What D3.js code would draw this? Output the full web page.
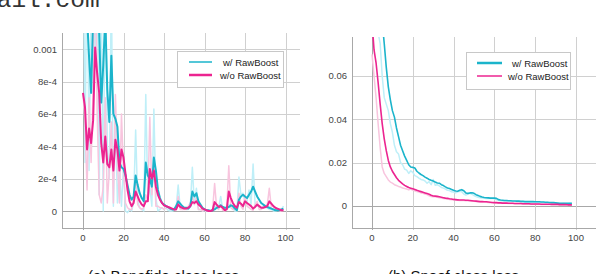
<!DOCTYPE html>
<html>
<head>
<meta charset="utf-8">
<script src="https://cdn.jsdelivr.net/npm/d3@7"></script>
<style>
  body { margin: 0; background: #fff; }
  svg { display: block; font-family: "Liberation Sans", Arial, sans-serif; }
</style>
</head>
<body>
<script>
/* epochs and tick labels */
var xTicks = [0, 20, 40, 60, 80, 100];
var leftYTicks = [0, 2e-4, 4e-4, 6e-4, 8e-4, 1e-3];
var leftYLabels = ["0", "2e-4", "4e-4", "6e-4", "8e-4", "0.001"];
var rightYTicks = [0, 0.02, 0.04, 0.06];
var rightYLabels = ["0", "0.02", "0.04", "0.06"];
var seriesNames = ["w/ RawBoost", "w/o RawBoost"];

/* (a) bonafide loss, units of 1e-4, epoch 0..99 */
var bonaWithSmooth = [14,13,12,9.5,7.3,12,15,13,11,6.7,9,12,7.5,5.5,9.6,6.0,5.7,5.2,3.0,2.7,
  2.6,2.2,1.6,1.0,0.7,0.9,2.2,1.6,1.1,0.8,0.6,3.0,2.2,2.0,1.5,3.3,2.5,1.3,0.8,0.5,
  0.4,0.3,0.25,0.15,0.1,0.1,0.3,0.6,0.45,0.3,0.2,0.2,0.15,0.3,1.2,0.9,1.1,0.6,0.4,0.2,
  0.1,0.05,0.05,0.0,0.05,0.1,0.2,0.25,0.35,0.25,0.2,0.2,0.25,0.35,0.3,0.15,0.05,0.7,0.9,1.0,
  0.9,0.8,1.0,1.2,1.5,1.2,0.9,0.7,0.5,0.4,0.3,0.25,0.2,0.15,0.1,0.05,0.05,0.05,0.1,0.15];
var bonaWithoutSmooth = [7.3,6.4,3.8,5.1,4.2,5.6,10.1,8.5,7.3,4.2,3.0,4.6,2.9,2.7,3.8,2.5,4.4,3.8,2.5,3.8,
  3.3,2.3,1.3,0.6,0.3,0.5,1.2,0.9,0.6,0.4,0.3,0.6,0.6,2.6,2.0,2.5,1.5,1.0,0.7,0.5,
  0.35,0.3,0.25,0.2,0.15,0.1,0.1,0.4,0.25,0.2,0.15,0.15,0.2,0.3,0.55,0.5,0.6,0.4,0.3,0.15,
  0.1,0.05,0.0,0.0,0.05,0.55,0.4,0.25,0.3,0.2,0.05,0.1,1.2,0.8,0.5,0.3,0.2,0.55,0.45,0.3,
  0.6,0.5,0.4,0.3,0.15,0.25,0.4,0.3,0.2,0.2,0.25,0.3,0.6,0.45,0.3,0.2,0.15,0.1,0.05,0.05];
var bonaWithRaw = [20,3,18,2.5,13,22,9,16,1,14,0.0,16,4,2,14,0.3,6,0.5,2.5,0.3,
  2.8,0,-0.1,0.1,0.0,0.5,5.0,0.6,0.2,0.1,0.0,7.2,0.8,1.5,0.3,6.3,0.8,0.0,0.1,0.2,
  0.1,0.2,0.05,0.0,0.0,0.05,0.2,1.6,0.2,0.1,0.2,0.1,0.1,0.3,2.7,0.4,1.4,0.1,0.1,0.0,
  0.05,0.0,0.0,0.0,0.1,0.3,0.3,0.2,0.9,0.1,0.2,0.2,0.4,0.4,0.2,0.0,0.0,2.1,1.0,1.1,
  0.6,0.6,1.3,0.4,2.9,0.4,0.3,0.3,0.2,0.3,0.2,0.2,0.1,0.1,0.0,0.0,0.05,0.05,0.1,0.3];
var bonaWithoutRaw = [7.3,5.5,1.3,7,3,7.5,17,6,1,0.5,1.5,7,0.5,2.5,5.5,0.5,7.2,3,0.5,6.0,
  2.5,0.5,0.2,0.1,0.1,0.8,2.2,0.4,0.2,0.1,0.2,1.0,0.6,5.8,1.0,3.3,0.3,0.3,0.2,0.2,
  0.1,0.2,0.2,0.1,0.1,0.05,0.1,0.9,0.1,0.1,0.1,0.1,0.3,0.5,0.9,0.4,0.8,0.1,0.1,0.0,
  0.05,0.0,0.0,0.0,0.1,1.7,0.2,0.1,0.4,0.05,0.0,0.2,2.8,0.2,0.1,0.1,0.1,1.1,0.3,0.1,
  1.0,0.3,0.2,0.1,0.05,0.4,0.6,0.1,0.1,0.2,0.3,0.4,1.4,0.2,0.1,0.1,0.1,0.0,0.0,0.05];

/* (b) spoof loss, epoch 0..98 */
var spoofWithSmooth = [0.16,0.14,0.12,0.105,0.095,0.085,0.075,0.064,0.055,0.049,0.044,0.041,0.036,0.032,0.028,0.0255,0.023,0.021,0.019,0.018,
  0.0178,0.0175,0.016,0.0152,0.0145,0.014,0.0133,0.0128,0.0122,0.0118,0.0115,0.011,0.0106,0.0105,0.0098,0.0094,0.0088,0.0083,0.008,0.0076,
  0.0072,0.0069,0.0068,0.0072,0.0075,0.007,0.006,0.0058,0.006,0.0061,0.0058,0.0052,0.0048,0.0044,0.0041,0.0039,0.0038,0.0037,0.0036,0.0036,
  0.0036,0.0035,0.0029,0.0027,0.0026,0.0025,0.0025,0.0024,0.0024,0.0023,0.0023,0.0022,0.0022,0.0021,0.0021,0.002,0.002,0.002,0.002,0.002,
  0.0019,0.0019,0.0019,0.0018,0.0018,0.0017,0.0017,0.0016,0.0015,0.0015,0.0014,0.0013,0.0012,0.0012,0.0012,0.0012,0.0012,0.0012,0.0012];
var spoofWithRaw = [0.12,0.1,0.09,0.08,0.075,0.06,0.05,0.047,0.044,0.038,0.034,0.028,0.025,0.024,0.02,0.019,0.017,0.0165,0.015,0.0162,
  0.0155,0.014,0.0135,0.0128,0.0122,0.012,0.0115,0.0105,0.0112,0.0098,0.0122,0.0095,0.0098,0.0092,0.0085,0.0082,0.0078,0.0072,0.0071,0.0065,
  0.0064,0.006,0.0065,0.0068,0.0065,0.0055,0.005,0.0055,0.0058,0.0054,0.0048,0.0043,0.004,0.0038,0.0036,0.0035,0.0034,0.0034,0.0035,0.0034,
  0.0033,0.0028,0.0025,0.0024,0.0023,0.0024,0.0022,0.0023,0.0022,0.0021,0.0021,0.002,0.0021,0.0019,0.002,0.0018,0.0019,0.0018,0.0019,0.0018,
  0.0017,0.0018,0.0017,0.0016,0.0017,0.0015,0.0016,0.0014,0.0014,0.0013,0.0012,0.0012,0.0011,0.0011,0.0012,0.0011,0.0011,0.0012,0.0011];
var spoofWithoutSmooth = [0.085,0.072,0.066,0.057,0.047,0.038,0.031,0.0255,0.021,0.018,0.016,0.0145,0.013,0.0118,0.011,0.0102,0.0095,0.009,0.0085,0.0082,
  0.0079,0.0076,0.0072,0.0069,0.0066,0.0063,0.006,0.0057,0.0054,0.0049,0.0046,0.0045,0.0044,0.0042,0.004,0.0038,0.0036,0.0035,0.0033,0.0032,
  0.003,0.0029,0.0028,0.0027,0.0027,0.0027,0.0026,0.0026,0.0025,0.0024,0.0023,0.0022,0.0021,0.002,0.002,0.0019,0.0019,0.0018,0.0017,0.0016,
  0.0015,0.0015,0.0014,0.0014,0.0013,0.0013,0.0013,0.0012,0.0012,0.0012,0.0011,0.0011,0.0011,0.0011,0.001,0.001,0.001,0.001,0.0009,0.0009,
  0.0009,0.0009,0.0009,0.0008,0.0008,0.0008,0.0008,0.0008,0.0007,0.0007,0.0007,0.0007,0.0006,0.0006,0.0006,0.0006,0.0005,0.0005,0.0005];
var spoofWithoutRaw = [0.07,0.06,0.05,0.038,0.027,0.018,0.015,0.0135,0.012,0.011,0.0105,0.0098,0.0094,0.009,0.0087,0.0083,0.008,0.0078,0.0074,0.0078,
  0.0073,0.007,0.0066,0.0064,0.006,0.0058,0.0055,0.0052,0.0047,0.0043,0.0042,0.0042,0.004,0.0038,0.0036,0.0034,0.0033,0.0032,0.003,0.0029,
  0.0028,0.0027,0.0026,0.0025,0.0026,0.0025,0.0024,0.0024,0.0023,0.0022,0.0021,0.002,0.0019,0.0019,0.0018,0.0018,0.0017,0.0016,0.0015,0.0015,
  0.0014,0.0014,0.0013,0.0013,0.0012,0.0012,0.0012,0.0011,0.0011,0.0011,0.001,0.001,0.001,0.001,0.0009,0.0009,0.0009,0.0009,0.0008,0.0008,
  0.0008,0.0008,0.0008,0.0007,0.0007,0.0007,0.0007,0.0007,0.0006,0.0006,0.0006,0.0006,0.0005,0.0005,0.0005,0.0005,0.0004,0.0004,0.0004];

var width = 596, height = 274;
var cyan = "#1bb4cb", magenta = "#ec2490", lightCyan = "#bfeff8", lightPink = "#f8c5de";
var gridColour = "#d0d0d0", axisColour = "#a8a8a8", textColour = "#444";

var svg = d3.select("body").append("svg")
  .attr("width", width)
  .attr("height", height);

/* cut-off text at top-left of the page */
svg.append("text")
  .attr("x", -18).attr("y", 7)
  .style("font-family", "'Liberation Mono', 'DejaVu Sans Mono', monospace")
  .style("font-size", "24.5px")
  .attr("fill", "#333")
  .text("mail.com");

function drawPanel(opt) {
  var x = d3.scaleLinear().domain([0, 100]).range([opt.x0, opt.x100]);
  var y = d3.scaleLinear().domain(opt.yDomain).range([opt.bottom, opt.top]);
  var g = svg.append("g");

  var clipId = "clip-" + opt.id;
  svg.append("clipPath").attr("id", clipId)
    .append("rect")
    .attr("x", opt.left).attr("y", opt.top)
    .attr("width", opt.right - opt.left).attr("height", opt.bottom - opt.top);

  // horizontal gridlines
  g.selectAll(".hgrid").data(opt.yTicks).enter().append("line")
    .attr("x1", opt.left).attr("x2", opt.right)
    .attr("y1", function(d) { return Math.round(y(d)) + 0.5; })
    .attr("y2", function(d) { return Math.round(y(d)) + 0.5; })
    .attr("stroke", function(d) { return d === 0 ? axisColour : gridColour; })
    .attr("stroke-width", 1);

  // vertical gridlines
  g.selectAll(".vgrid").data(xTicks).enter().append("line")
    .attr("y1", opt.top).attr("y2", opt.bottom + 2)
    .attr("x1", function(d) { return Math.round(x(d)) + 0.5; })
    .attr("x2", function(d) { return Math.round(x(d)) + 0.5; })
    .attr("stroke", function(d) { return d === 0 ? axisColour : gridColour; })
    .attr("stroke-width", 1);

  // axis lines
  g.append("line")
    .attr("x1", opt.left + 0.5).attr("x2", opt.left + 0.5)
    .attr("y1", opt.top).attr("y2", opt.bottom)
    .attr("stroke", axisColour);
  g.append("line")
    .attr("x1", opt.left).attr("x2", opt.right)
    .attr("y1", opt.bottom + 0.5).attr("y2", opt.bottom + 0.5)
    .attr("stroke", axisColour);

  // tick labels
  g.selectAll(".ylab").data(opt.yTicks).enter().append("text")
    .attr("x", opt.left - 5)
    .attr("y", function(d) { return y(d) + 3.5; })
    .attr("text-anchor", "end")
    .attr("fill", textColour)
    .style("font-size", "9.5px")
    .text(function(d, i) { return opt.yLabels[i]; });
  g.selectAll(".xlab").data(xTicks).enter().append("text")
    .attr("x", function(d) { return x(d); })
    .attr("y", opt.bottom + 13)
    .attr("text-anchor", "middle")
    .attr("fill", textColour)
    .style("font-size", "9.5px")
    .text(function(d) { return d; });

  // data lines
  var line = d3.line()
    .x(function(d, i) { return x(i); })
    .y(function(d) { return y(d * opt.unit); });
  var lines = svg.append("g").attr("clip-path", "url(#" + clipId + ")");
  var series = [
    {data: opt.withRaw, colour: lightCyan, w: 1.5},
    {data: opt.withoutRaw, colour: lightPink, w: 1.5},
    {data: opt.withSmooth, colour: cyan, w: opt.smoothW},
    {data: opt.withoutSmooth, colour: magenta, w: opt.smoothW}
  ];
  lines.selectAll("path").data(series).enter().append("path")
    .attr("d", function(s) { return line(s.data); })
    .attr("fill", "none")
    .attr("stroke", function(s) { return s.colour; })
    .attr("stroke-width", function(s) { return s.w; })
    .attr("stroke-linejoin", "round");

  // legend
  var lg = svg.append("g");
  lg.append("rect")
    .attr("x", opt.legend.x + 0.5).attr("y", opt.legend.y + 0.5)
    .attr("width", opt.legend.w).attr("height", opt.legend.h)
    .attr("fill", "#fff").attr("stroke", "#c8c8c8");
  var legendItems = [
    {name: seriesNames[0], colour: cyan, w: opt.legend.w1, dy: 11, tx: opt.legend.tx1},
    {name: seriesNames[1], colour: magenta, w: opt.legend.w2, dy: 24, tx: opt.legend.tx2}
  ];
  legendItems.forEach(function(it) {
    lg.append("line")
      .attr("x1", opt.legend.lx1).attr("x2", opt.legend.lx2)
      .attr("y1", opt.legend.y + it.dy).attr("y2", opt.legend.y + it.dy)
      .attr("stroke", it.colour).attr("stroke-width", it.w);
    lg.append("text")
      .attr("x", it.tx).attr("y", opt.legend.y + it.dy + 3.5)
      .attr("fill", "#222")
      .style("font-size", "9.5px")
      .text(it.name);
  });

  // caption
  svg.append("text")
    .attr("x", opt.captionX).attr("y", 281)
    .attr("fill", "#111")
    .style("font-size", "15px")
    .text(opt.caption);
}

drawPanel({
  id: "a", left: 62, right: 300, top: 33, bottom: 228,
  x0: 83, x100: 285.5, yDomain: [-1.05e-4, 1.1e-3], unit: 1e-4,
  yTicks: leftYTicks, yLabels: leftYLabels, smoothW: 2,
  withSmooth: bonaWithSmooth, withoutSmooth: bonaWithoutSmooth,
  withRaw: bonaWithRaw, withoutRaw: bonaWithoutRaw,
  legend: {x: 177, y: 51, w: 106, h: 36, lx1: 189, lx2: 212, w1: 1.5, w2: 2.5, tx1: 223, tx2: 220},
  captionX: 88, caption: "(a) Bonafide class loss"
});

drawPanel({
  id: "b", left: 352, right: 596, top: 37, bottom: 228,
  x0: 372, x100: 576, yDomain: [-0.0102, 0.078], unit: 1,
  yTicks: rightYTicks, yLabels: rightYLabels, smoothW: 1.6,
  withSmooth: spoofWithSmooth, withoutSmooth: spoofWithoutSmooth,
  withRaw: spoofWithRaw, withoutRaw: spoofWithoutRaw,
  legend: {x: 466, y: 52, w: 104, h: 37, lx1: 477, lx2: 502, w1: 2.5, w2: 1.5, tx1: 512, tx2: 508},
  captionX: 388, caption: "(b) Spoof class loss"
});
</script>
</body>
</html>
